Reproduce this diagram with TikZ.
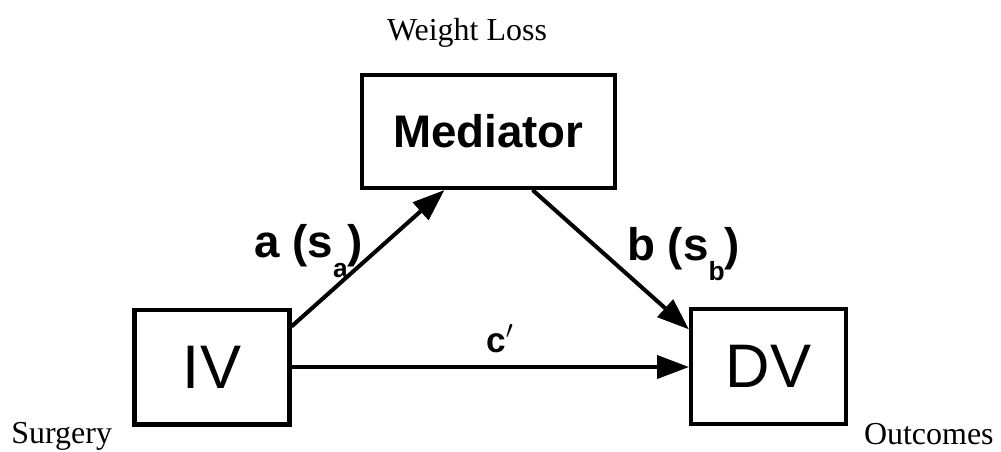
\documentclass[tikz,border=0pt]{standalone}
\usepackage{fontspec}
\setmainfont{Liberation Serif}
\setsansfont{Liberation Sans}
\usetikzlibrary{arrows.meta}
\newcommand\lowsub[1]{\raisebox{-0.45em}{\fontsize{15}{18}\selectfont #1}}
\tikzset{
  every picture/.style={>={Triangle[length=0.64cm, width=0.46cm]}},
  varbox/.style={draw, line width=2.3pt, inner sep=0pt, minimum width=3.1cm, minimum height=2.3cm,
                 font=\sffamily\fontsize{35}{40}\selectfont},
  medbox/.style={varbox, minimum width=5.06cm, minimum height=2.26cm,
                 font=\sffamily\bfseries\fontsize{26}{30}\selectfont},
  pathlbl/.style={inner sep=0pt, font=\sffamily\bfseries\fontsize{26}{30}\selectfont},
  sidelbl/.style={inner sep=0pt, font=\fontsize{18.2}{21}\selectfont},
  link/.style={->, line width=2.3pt},
}
\begin{document}
\begin{tikzpicture}[x=0.02cm, y=-0.02cm]
  \useasboundingbox (0,0) rectangle (1001,451);
  \node[medbox] (med) at (488.5,131.5) {Mediator};
  \node[varbox] (iv) at (212,367) {IV};
  \node[varbox] (dv) at (768.5,366.5) {DV};
  \draw[link] (iv.27) -- (med.233);
  \draw[link] (med.307) -- (dv.155);
  \draw[link] (iv.east) -- (iv.east -| dv.west);
  \node[pathlbl, anchor=base west] (la) at (254,257) {a (s\lowsub{a})};
  \node[pathlbl, anchor=base west] (lb) at (627,260) {b (s\lowsub{b})};
  \node[pathlbl, anchor=base west, font=\sffamily\bfseries\fontsize{20}{24}\selectfont] (lc) at (486,352) {c$'$};
  \node[sidelbl, anchor=base] (wl) at (467,40) {Weight Loss};
  \node[sidelbl, anchor=base west] (surg) at (11,443) {Surgery};
  \node[sidelbl, anchor=base east] (outc) at (994,444) {Outcomes};
\end{tikzpicture}
\end{document}
